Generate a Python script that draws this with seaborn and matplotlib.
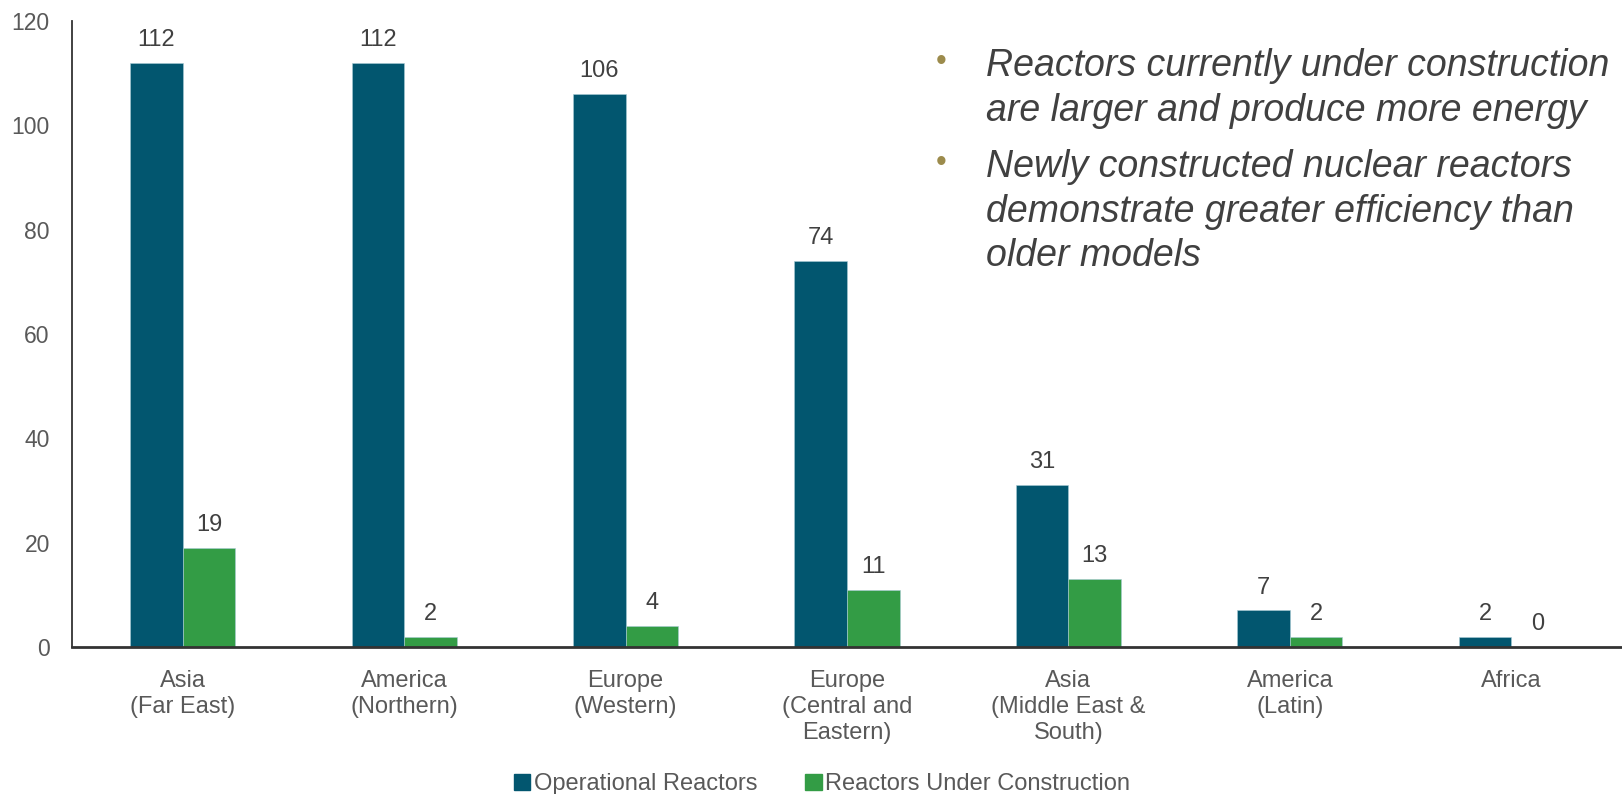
import matplotlib
matplotlib.use("Agg")
import matplotlib.pyplot as plt
import matplotlib.patches as mpatches
import seaborn as sns
import pandas as pd

# Reactor counts by region
regions = [
    "Asia\n(Far East)",
    "America\n(Northern)",
    "Europe\n(Western)",
    "Europe\n(Central and\nEastern)",
    "Asia\n(Middle East &\nSouth)",
    "America\n(Latin)",
    "Africa",
]
operational = [112, 112, 106, 74, 31, 7, 2]
under_construction = [19, 2, 4, 11, 13, 2, 0]
series_names = ["Operational Reactors", "Reactors Under Construction"]
y_ticks = [0, 20, 40, 60, 80, 100, 120]
notes = [
    "Reactors currently under construction\nare larger and produce more energy",
    "Newly constructed nuclear reactors\ndemonstrate greater efficiency than\nolder models",
]

colors = ["#02566F", "#339C45"]
text_dark = "#404040"
text_gray = "#595959"

df = pd.DataFrame({
    "Region": regions * 2,
    "Reactors": operational + under_construction,
    "Status": [series_names[0]] * len(regions) + [series_names[1]] * len(regions),
})

sns.set_theme(style="white")
plt.rcParams["font.family"] = ["Liberation Sans", "DejaVu Sans"]

W, H = 1622, 794
fig = plt.figure(figsize=(W / 100, H / 100), dpi=100)
ax = fig.add_axes([72 / W, 1 - 647 / H, 1 - 72 / W, (647 - 21) / H])

sns.barplot(
    data=df, x="Region", y="Reactors", hue="Status",
    palette=colors, saturation=1, width=0.475, ax=ax, legend=False,
    edgecolor="#A9CBD6", linewidth=0.4,
)

ax.set_ylim(0, 120)
ax.set_xlim(-0.5, len(regions) - 0.5)
ax.set_yticks(y_ticks)
ax.set_xlabel("")
ax.set_ylabel("")
ax.tick_params(axis="y", length=0, pad=16, labelsize=16.5, labelcolor=text_gray)
ax.tick_params(axis="x", length=0, pad=16.5, labelsize=17, labelcolor=text_gray)
for lbl in ax.get_xticklabels():
    lbl.set_linespacing(1.25)

for side in ["top", "right"]:
    ax.spines[side].set_visible(False)
ax.spines["left"].set_color("#333333")
ax.spines["left"].set_linewidth(1.3)
ax.spines["bottom"].set_color("#333333")
ax.spines["bottom"].set_linewidth(2.0)

for container in ax.containers:
    ax.bar_label(container, fmt="%d", padding=8.5, fontsize=17, color=text_dark)

handles = [mpatches.Patch(color=c, label=n) for c, n in zip(colors, series_names)]
fig.legend(
    handles=handles, loc="center", bbox_to_anchor=(822 / W, 1 - 784 / H),
    ncol=2, frameon=False, fontsize=17, labelcolor=text_gray,
    handlelength=0.68, handleheight=0.68, handletextpad=0.15, columnspacing=2.05,
    borderpad=0.1,
)

# Commentary bullets
bullet_y = [62, 163]
text_top = [48, 149]
for note, by, ty in zip(notes, bullet_y, text_top):
    fig.text(941 / W, 1 - by / H, "\u2022", color="#9C8B4C", fontsize=22,
             ha="center", va="center")
    fig.text(986 / W, 1 - ty / H, note, color=text_dark, fontsize=27,
             style="italic", ha="left", va="top", linespacing=1.31)

fig.savefig("out.png", dpi=100)
